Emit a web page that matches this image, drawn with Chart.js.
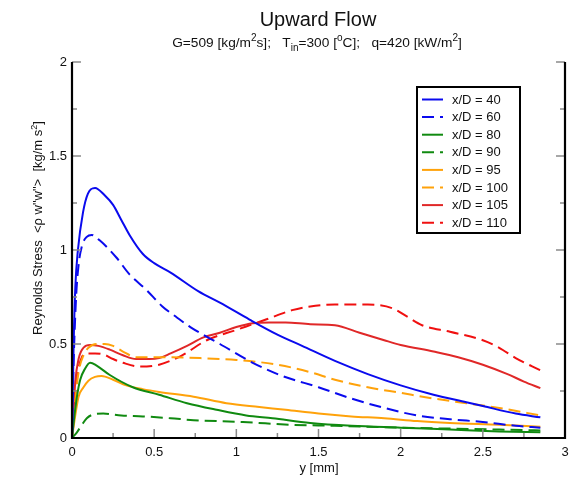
<!DOCTYPE html>
<html>
<head>
<meta charset="utf-8">
<script src="https://cdn.jsdelivr.net/npm/chart.js@4.4.1/dist/chart.umd.min.js"></script>
<style>
  html, body { margin: 0; padding: 0; background: #fff; }
  #wrap { width: 578px; height: 482px; }
</style>
</head>
<body>
<div id="wrap"><canvas id="c" width="578" height="482"></canvas></div>
<script>
// Axis ticks
const xTickValues = [0, 0.5, 1, 1.5, 2, 2.5, 3];
const xTickLabels = ['0', '0.5', '1', '1.5', '2', '2.5', '3'];
const yTickValues = [0, 0.5, 1, 1.5, 2];
const yTickLabels = ['0', '0.5', '1', '1.5', '2'];
const xMinorTicks = [0.25, 0.75, 1.25, 1.75, 2.25, 2.75];
const yMinorTicks = [0.25, 0.75, 1.25, 1.75];

// Series names
const seriesLabels = ['x/D = 40', 'x/D = 60', 'x/D = 80', 'x/D = 90',
                      'x/D = 95', 'x/D = 100', 'x/D = 105', 'x/D = 110'];

// Wall distance y [mm] and Reynolds stress for each axial station
const pos40 = [0, 0.01, 0.02, 0.036, 0.067, 0.097, 0.14, 0.2, 0.25, 0.3, 0.35, 0.43, 0.5, 0.6, 0.77, 0.9, 1.08, 1.25, 1.4, 1.6, 1.8, 2.0, 2.2, 2.4, 2.5, 2.7, 2.85];
const rs40  = [0, 0.5, 0.8, 1.0, 1.2, 1.3, 1.33, 1.29, 1.24, 1.16, 1.08, 0.98, 0.93, 0.88, 0.78, 0.72, 0.63, 0.55, 0.49, 0.41, 0.34, 0.28, 0.23, 0.19, 0.17, 0.13, 0.11];

const pos60 = [0, 0.01, 0.025, 0.04, 0.06, 0.09, 0.12, 0.17, 0.27, 0.35, 0.45, 0.55, 0.64, 0.72, 0.9, 1.1, 1.28, 1.5, 1.7, 1.9, 2.1, 2.3, 2.5, 2.7, 2.85];
const rs60  = [0, 0.4, 0.75, 0.92, 1.02, 1.07, 1.08, 1.05, 0.96, 0.87, 0.79, 0.70, 0.64, 0.59, 0.5, 0.4, 0.33, 0.27, 0.21, 0.16, 0.12, 0.10, 0.085, 0.065, 0.055];

const pos80 = [0, 0.015, 0.03, 0.05, 0.08, 0.11, 0.15, 0.23, 0.37, 0.53, 0.7, 0.88, 1.06, 1.22, 1.45, 1.7, 2.0, 2.3, 2.6, 2.85];
const rs80  = [0, 0.12, 0.22, 0.31, 0.37, 0.40, 0.385, 0.335, 0.27, 0.23, 0.185, 0.15, 0.12, 0.105, 0.08, 0.065, 0.055, 0.045, 0.035, 0.03];

const pos90 = [0, 0.03, 0.06, 0.09, 0.13, 0.19, 0.3, 0.43, 0.6, 0.74, 1.04, 1.34, 1.6, 2.0, 2.3, 2.6, 2.85];
const rs90  = [0, 0.03, 0.07, 0.105, 0.125, 0.13, 0.12, 0.115, 0.105, 0.095, 0.085, 0.07, 0.065, 0.055, 0.05, 0.045, 0.04];

const pos95 = [0, 0.02, 0.04, 0.07, 0.1, 0.14, 0.18, 0.25, 0.33, 0.43, 0.53, 0.74, 0.94, 1.14, 1.3, 1.5, 1.7, 1.9, 2.1, 2.3, 2.6, 2.85];
const rs95  = [0, 0.12, 0.22, 0.27, 0.305, 0.325, 0.33, 0.31, 0.28, 0.26, 0.245, 0.22, 0.185, 0.165, 0.15, 0.13, 0.115, 0.105, 0.09, 0.08, 0.07, 0.06];

const pos100 = [0, 0.02, 0.04, 0.07, 0.1, 0.15, 0.2, 0.25, 0.31, 0.39, 0.53, 0.78, 1.0, 1.25, 1.45, 1.6, 1.8, 2.0, 2.2, 2.4, 2.6, 2.85];
const rs100  = [0, 0.2, 0.35, 0.44, 0.48, 0.5, 0.5, 0.49, 0.46, 0.43, 0.43, 0.425, 0.415, 0.39, 0.35, 0.31, 0.27, 0.24, 0.21, 0.185, 0.16, 0.12];

const pos105 = [0, 0.01, 0.02, 0.04, 0.07, 0.11, 0.16, 0.23, 0.31, 0.39, 0.47, 0.53, 0.6, 0.7, 0.8, 0.9, 1.0, 1.1, 1.2, 1.3, 1.45, 1.6, 1.75, 1.9, 2.0, 2.2, 2.35, 2.5, 2.65, 2.75, 2.85];
const rs105  = [0, 0.15, 0.3, 0.42, 0.48, 0.495, 0.49, 0.47, 0.44, 0.42, 0.42, 0.425, 0.45, 0.49, 0.535, 0.56, 0.59, 0.61, 0.615, 0.615, 0.605, 0.6, 0.56, 0.52, 0.495, 0.46, 0.43, 0.39, 0.34, 0.30, 0.265];

const pos110 = [0, 0.01, 0.02, 0.04, 0.06, 0.09, 0.14, 0.19, 0.25, 0.31, 0.41, 0.53, 0.67, 0.82, 1.0, 1.18, 1.34, 1.45, 1.6, 1.8, 1.95, 2.04, 2.13, 2.3, 2.5, 2.6, 2.7, 2.85];
const rs110  = [0, 0.12, 0.25, 0.37, 0.43, 0.45, 0.45, 0.445, 0.42, 0.40, 0.38, 0.39, 0.44, 0.52, 0.575, 0.63, 0.68, 0.70, 0.71, 0.71, 0.69, 0.645, 0.60, 0.565, 0.52, 0.48, 0.425, 0.36];

const FONT = '"Liberation Sans", Arial, Helvetica, sans-serif';
const DASH = [12, 6];

function toPoints(xs, ys) { return xs.map((x, i) => ({ x: x, y: ys[i] })); }

function series(label, xs, ys, color, dashed) {
  return {
    label: label,
    data: toPoints(xs, ys),
    borderColor: color,
    backgroundColor: color,
    borderWidth: 2,
    borderDash: dashed ? DASH : [],
    pointRadius: 0,
    fill: false,
    cubicInterpolationMode: 'monotone'
  };
}

const BLUE = '#0a0aee', GREEN = '#108a10', ORANGE = '#ffa20a', RED = '#f01010', DARKRED = '#e02828';

const datasets = [
  series(seriesLabels[0], pos40, rs40, BLUE, false),
  series(seriesLabels[1], pos60, rs60, BLUE, true),
  series(seriesLabels[2], pos80, rs80, GREEN, false),
  series(seriesLabels[3], pos90, rs90, GREEN, true),
  series(seriesLabels[4], pos95, rs95, ORANGE, false),
  series(seriesLabels[5], pos100, rs100, ORANGE, true),
  series(seriesLabels[6], pos105, rs105, DARKRED, false),
  series(seriesLabels[7], pos110, rs110, RED, true)
];

// Draws a run of text pieces with optional superscript / subscript parts
function drawRich(ctx, cx, y, segs, size) {
  const parts = segs.map(s => {
    const sz = s.sup || s.sub ? Math.round(size * 0.7) : size;
    ctx.font = sz + 'px ' + FONT;
    return { t: s.t, sz: sz, w: ctx.measureText(s.t).width,
             dy: s.sup ? -size * 0.42 : (s.sub ? size * 0.3 : 0) };
  });
  const total = parts.reduce((a, p) => a + p.w, 0);
  let x = cx - total / 2;
  ctx.textAlign = 'left';
  parts.forEach(p => {
    ctx.font = p.sz + 'px ' + FONT;
    ctx.fillText(p.t, x, y + p.dy);
    x += p.w;
  });
}

const decorations = {
  id: 'decorations',
  afterDatasetsDraw(chart) {
    const ctx = chart.ctx;
    const a = chart.chartArea;
    const xs = chart.scales.x, ys = chart.scales.y;
    ctx.save();

    // inward tick marks on left, bottom and right sides
    ctx.strokeStyle = '#8a8a8a';
    ctx.lineWidth = 1.5;
    const tick = (x1, y1, x2, y2) => { ctx.beginPath(); ctx.moveTo(x1, y1); ctx.lineTo(x2, y2); ctx.stroke(); };
    xTickValues.forEach(v => { const px = xs.getPixelForValue(v); tick(px, a.bottom, px, a.bottom - 9); });
    xMinorTicks.forEach(v => { const px = xs.getPixelForValue(v); tick(px, a.bottom, px, a.bottom - 5); });
    yTickValues.forEach(v => { const py = ys.getPixelForValue(v); tick(a.left, py, a.left + 9, py); tick(a.right, py, a.right - 9, py); });
    yMinorTicks.forEach(v => { const py = ys.getPixelForValue(v); tick(a.left, py, a.left + 5, py); tick(a.right, py, a.right - 5, py); });

    // frame
    ctx.strokeStyle = '#000';
    ctx.lineWidth = 2.2;
    ctx.beginPath();
    ctx.moveTo(a.left, a.top);
    ctx.lineTo(a.left, a.bottom);
    ctx.lineTo(a.right, a.bottom);
    ctx.lineTo(a.right, a.top);
    ctx.stroke();

    // legend box
    const lx = 417, ly = 87, lw = 103, lh = 146;
    ctx.fillStyle = '#fff';
    ctx.fillRect(lx, ly, lw, lh);
    ctx.lineWidth = 2;
    ctx.strokeStyle = '#000';
    ctx.strokeRect(lx, ly, lw, lh);
    ctx.textBaseline = 'middle';
    ctx.textAlign = 'left';
    ctx.font = '13px ' + FONT;
    chart.data.datasets.forEach((ds, i) => {
      const ry = 99.5 + i * 17.6;
      ctx.strokeStyle = ds.borderColor;
      ctx.lineWidth = 2;
      ctx.setLineDash(ds.borderDash);
      ctx.beginPath();
      ctx.moveTo(422, ry);
      ctx.lineTo(443, ry);
      ctx.stroke();
      ctx.setLineDash([]);
      ctx.fillStyle = '#111';
      ctx.fillText(ds.label, 452, ry + 0.5);
    });

    // titles
    ctx.fillStyle = '#111';
    ctx.textBaseline = 'alphabetic';
    drawRich(ctx, 318, 26, [{ t: 'Upward Flow' }], 20);
    drawRich(ctx, 317, 47, [
      { t: 'G=509 [kg/m' }, { t: '2', sup: true }, { t: 's];   T' }, { t: 'in', sub: true },
      { t: '=300 [' }, { t: 'o', sup: true }, { t: 'C];   q=420 [kW/m' }, { t: '2', sup: true }, { t: ']' }
    ], 13.7);
    drawRich(ctx, 319, 472, [{ t: 'y [mm]' }], 13);

    ctx.translate(42, 228);
    ctx.rotate(-Math.PI / 2);
    drawRich(ctx, 0, 0, [
      { t: 'Reynolds Stress  <\u03c1 w"w">  [kg/m s' }, { t: '2', sup: true }, { t: ']' }
    ], 13);
    ctx.restore();
  }
};

new Chart(document.getElementById('c'), {
  type: 'line',
  data: { datasets: datasets },
  options: {
    responsive: false,
    animation: false,
    devicePixelRatio: 1,
    layout: { padding: { top: 62, right: 13, left: 0, bottom: 0 } },
    plugins: { legend: { display: false }, title: { display: false }, tooltip: { enabled: false } },
    scales: {
      x: {
        type: 'linear', min: 0, max: 3,
        grid: { display: false, drawTicks: false },
        border: { display: false },
        afterBuildTicks: s => { s.ticks = xTickValues.map(v => ({ value: v })); },
        afterFit: s => { s.height = 44; },
        ticks: {
          padding: 7, color: '#111', font: { family: FONT, size: 13 },
          maxRotation: 0, autoSkip: false,
          callback: (v) => xTickLabels[xTickValues.indexOf(v)]
        }
      },
      y: {
        type: 'linear', min: 0, max: 2,
        grid: { display: false, drawTicks: false },
        border: { display: false },
        afterBuildTicks: s => { s.ticks = yTickValues.map(v => ({ value: v })); },
        afterFit: s => { s.width = 72; },
        ticks: {
          padding: 5, color: '#111', font: { family: FONT, size: 13 },
          callback: (v) => yTickLabels[yTickValues.indexOf(v)]
        }
      }
    }
  },
  plugins: [decorations]
});
</script>
</body>
</html>
